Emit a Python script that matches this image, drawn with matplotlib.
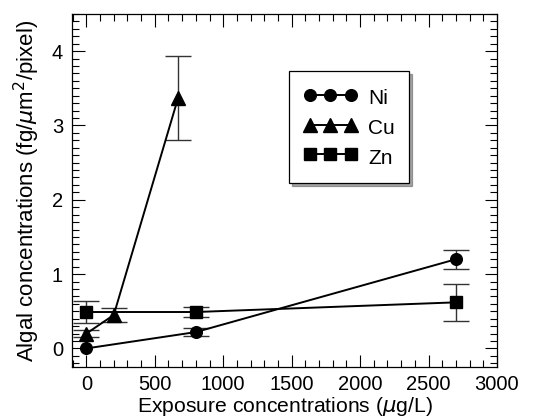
import numpy as np
import matplotlib
matplotlib.use('Agg')
import matplotlib.pyplot as plt
from matplotlib.ticker import MultipleLocator

plt.rcParams['font.family'] = ['Liberation Sans', 'DejaVu Sans']
plt.rcParams['mathtext.fontset'] = 'dejavusans'

# data
ni_x = [0, 800, 2700]
ni_y = [0.0, 0.22, 1.20]
ni_err = [0.0, 0.05, 0.13]

cu_x = [0, 200, 670]
cu_y = [0.20, 0.45, 3.37]
cu_err = [0.05, 0.10, 0.56]

zn_x = [0, 800, 2700]
zn_y = [0.49, 0.49, 0.62]
zn_err = [0.15, 0.07, 0.25]

fig = plt.figure(figsize=(5.44, 4.18), dpi=100)
ax = fig.add_axes([72/544, 1 - 367/418, 425/544, 353/418])

series = [(ni_x, ni_y, ni_err, 'o', 8.4, 'Ni'),
          (cu_x, cu_y, cu_err, '^', 10.5, 'Cu'),
          (zn_x, zn_y, zn_err, 's', 8.3, 'Zn')]

for x, y, e, m, ms, lab in series:
    x, y, e = np.array(x), np.array(y), np.array(e)
    has = e > 0  # points without a visible error bar
    ax.errorbar(x[has], y[has], yerr=e[has], fmt='none', ecolor='#333333',
                elinewidth=1.0, capsize=9.5, capthick=1.0)
    ax.plot(x, y, color='black', marker=m, markersize=ms, linewidth=1.4,
            label=lab)

ax.set_xlim(-105, 3000)
ax.set_ylim(-0.25, 4.5)
ax.xaxis.set_major_locator(MultipleLocator(500))
ax.xaxis.set_minor_locator(MultipleLocator(100))
ax.yaxis.set_major_locator(MultipleLocator(1))
ax.yaxis.set_minor_locator(MultipleLocator(0.1))
ax.tick_params(which='both', direction='in', top=True, right=True)
ax.tick_params(which='major', length=9, width=0.8, labelsize=14.5)
ax.tick_params(axis='x', which='major', pad=5.5)
ax.tick_params(axis='y', which='major', pad=6.5)
ax.tick_params(which='minor', length=5, width=0.8)
for s in ax.spines.values():
    s.set_linewidth(0.9)

ax.set_xlabel(r'Exposure concentrations ($\mu$g/L)', fontsize=15.2, labelpad=1)
ax.set_ylabel(r'Algal concentrations (fg/$\mu$m$^2$/pixel)', fontsize=16,
              labelpad=7)

leg = ax.legend(loc='upper left', bbox_to_anchor=(0.51, 0.838), numpoints=3,
                frameon=True, fancybox=False, shadow=True, edgecolor='black',
                fontsize=15, handlelength=2.6, handleheight=1.35,
                handletextpad=0.5, borderpad=0.7, labelspacing=0.3,
                borderaxespad=0)
leg.get_frame().set_linewidth(0.9)

plt.savefig('out.png', dpi=100)
